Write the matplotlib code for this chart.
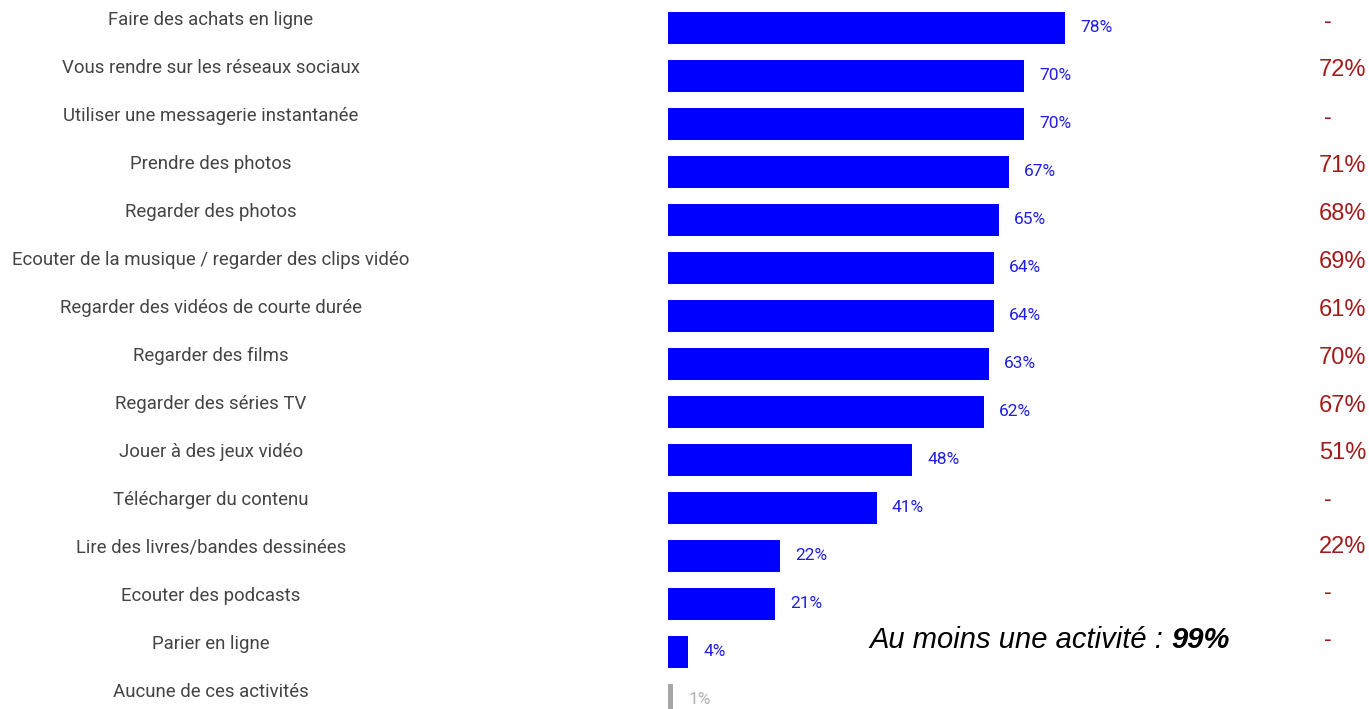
import matplotlib.pyplot as plt
import matplotlib.transforms as mtransforms

activities = [
    "Faire des achats en ligne",
    "Vous rendre sur les réseaux sociaux",
    "Utiliser une messagerie instantanée",
    "Prendre des photos",
    "Regarder des photos",
    "Ecouter de la musique / regarder des clips vidéo",
    "Regarder des vidéos de courte durée",
    "Regarder des films",
    "Regarder des séries TV",
    "Jouer à des jeux vidéo",
    "Télécharger du contenu",
    "Lire des livres/bandes dessinées",
    "Ecouter des podcasts",
    "Parier en ligne",
    "Aucune de ces activités",
]
values = [78, 70, 70, 67, 65, 64, 64, 63, 62, 48, 41, 22, 21, 4, 1]
# previous wave, None where there is no value (shown as "-")
previous = [None, 72, None, 71, 68, 69, 61, 70, 67, 51, None, 22, None, None]

fig = plt.figure(figsize=(13.69, 7.09), dpi=100)
ax = fig.add_axes([668 / 1369, 0, 1 - 668 / 1369, 1])
ax.set_xlim(0, (1369 - 668) / 5.09)
ax.set_ylim(14.19, -0.583)
ax.axis('off')

n = len(activities)
colors = ['#0000ff'] * (n - 1) + ['#a6a6a6']
ypos = list(range(n))
ax.barh(ypos, values, height=0.667, color=colors)

for i, v in enumerate(values):
    c = '#1f1fe6' if i < n - 1 else '#b0b0b0'
    ax.annotate(f"{v}%", xy=(v, i), xytext=(11, 0), textcoords='offset points',
                ha='left', va='center', fontsize=12.5, color=c, family='Roboto')

tr = mtransforms.blended_transform_factory(fig.transFigure, ax.transData)
for i, lab in enumerate(activities):
    ax.text(211 / 1369, i - 0.17, lab, transform=tr, ha='center', va='center',
            fontsize=13.4, color='#444444', family='Roboto')

for i, p in enumerate(previous):
    s = '-' if p is None else f"{p}%"
    x = 1366 / 1369 if p is not None else 1328 / 1369
    ha = 'right' if p is not None else 'center'
    dy = 0.12 + 0.025 * max(0, i - 8)   # the old column drifts upwards lower down
    ax.text(x, i - dy, s, transform=tr, ha=ha, va='center',
            fontsize=17, color='#a31a1a', family='Liberation Sans')

t1 = fig.text(869 / 1369, 1 - 648 / 709, "Au moins une activité : ",
              ha='left', va='baseline', fontsize=21, style='italic',
              family='Liberation Sans')
ax.annotate("99%", xy=(1, 0), xycoords=t1, xytext=(0, 0), textcoords='offset points',
            ha='left', va='bottom', fontsize=21, style='italic', weight='bold',
            family='Liberation Sans', annotation_clip=False)

fig.savefig('out.png', dpi=100)
